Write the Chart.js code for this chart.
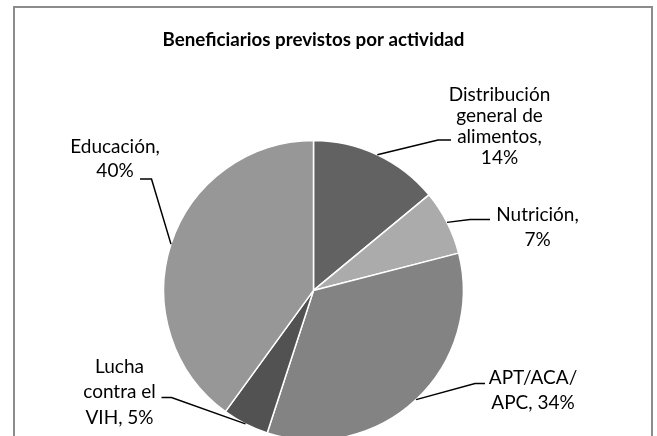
<!DOCTYPE html>
<html lang="es">
<head>
<meta charset="utf-8">
<title>Beneficiarios previstos por actividad</title>
<script src="https://cdn.jsdelivr.net/npm/chart.js@4/dist/chart.umd.min.js"></script>
<style>
  html, body { margin: 0; padding: 0; background: #ffffff; overflow: hidden; width: 657px; height: 436px; }
  canvas { display: block; }
</style>
</head>
<body>
<canvas id="pieChart" width="657" height="450"></canvas>
<script>
// Chart data
const categories = [
  "Distribución general de alimentos",
  "Nutrición",
  "APT/ACA/APC",
  "Lucha contra el VIH",
  "Educación"
];
const shares = [14, 7, 34, 5, 40]; // percent of beneficiaries
const sliceColors = ["#626262", "#ababab", "#838383", "#525252", "#979797"];

// Where each data label sits (text centre + first baseline) and how its leader line bends
const labelLayout = [
  { text: [499.5, 100.7], lineHeight: 21.2, wrap: 108, elbow: [438, 140], end: [451, 140] },
  { text: [537.5, 221], lineHeight: 24.7, wrap: 95, elbow: [470, 219.5], end: [490, 219.5] },
  { text: [533, 383.5], lineHeight: 25.6, wrap: 100, elbow: [475, 383.5], end: [485, 383.5] },
  { text: [119.5, 372.5], lineHeight: 25.5, wrap: 82, elbow: [171.5, 397.5], end: [161.5, 397.5] },
  { text: [115, 152.7], lineHeight: 24.5, wrap: 100, elbow: [151.5, 179], end: [140, 179] }
];

const FONT = "Lato, 'Noto Sans', sans-serif";

// Break a label into lines, allowing breaks after spaces and slashes
function wrapLabel(ctx, text, maxWidth) {
  const pieces = text.match(/[^\s\/]+\/?\s*|\s+/g) || [text];
  const lines = [];
  let current = "";
  pieces.forEach(piece => {
    const trial = current + piece;
    if (current && ctx.measureText(trial.trim()).width > maxWidth) {
      lines.push(current.trim());
      current = piece;
    } else {
      current = trial;
    }
  });
  if (current.trim()) lines.push(current.trim());
  return lines;
}

// Grey frame round the chart, like the spreadsheet chart area
const framePlugin = {
  id: "frame",
  beforeDraw(chart) {
    const ctx = chart.ctx;
    ctx.save();
    ctx.fillStyle = "#ffffff";
    ctx.fillRect(0, 0, chart.width, chart.height);
    ctx.strokeStyle = "#8c8c8c";
    ctx.lineWidth = 2;
    ctx.strokeRect(14, 7, 638, 470);
    ctx.restore();
  }
};

// Data labels with leader lines that start on each slice's outer edge
const leaderLabelPlugin = {
  id: "leaderLabels",
  afterDatasetsDraw(chart) {
    const ctx = chart.ctx;
    const arcs = chart.getDatasetMeta(0).data;
    ctx.save();
    ctx.font = "19px " + FONT;
    ctx.fillStyle = "#000000";
    ctx.textAlign = "center";
    ctx.textBaseline = "alphabetic";
    arcs.forEach((arc, i) => {
      const p = arc.getProps(["x", "y", "startAngle", "endAngle", "outerRadius"], true);
      const mid = (p.startAngle + p.endAngle) / 2;
      const sx = p.x + Math.cos(mid) * p.outerRadius;
      const sy = p.y + Math.sin(mid) * p.outerRadius;
      const lay = labelLayout[i];

      // leader line
      ctx.beginPath();
      ctx.strokeStyle = "#000000";
      ctx.lineWidth = 1.5;
      ctx.moveTo(sx, sy);
      ctx.lineTo(lay.elbow[0], lay.elbow[1]);
      ctx.lineTo(lay.end[0], lay.end[1]);
      ctx.stroke();

      // label text: "category, value%"
      const text = categories[i] + ", " + shares[i] + "%";
      const lines = wrapLabel(ctx, text, lay.wrap);
      lines.forEach((line, k) => {
        ctx.fillText(line, lay.text[0], lay.text[1] + k * lay.lineHeight);
      });
    });
    ctx.restore();
  }
};

new Chart(document.getElementById("pieChart"), {
  type: "pie",
  data: {
    labels: categories,
    datasets: [{
      data: shares,
      backgroundColor: sliceColors,
      borderColor: "#ffffff",
      borderWidth: 1.5
    }]
  },
  options: {
    responsive: false,
    animation: false,
    devicePixelRatio: 1,
    layout: {
      padding: { left: 162.5, right: 192.5, top: 0, bottom: 9 }
    },
    plugins: {
      legend: { display: false },
      tooltip: { enabled: false },
      title: {
        display: true,
        text: "Beneficiarios previstos por actividad",
        color: "#000000",
        font: { family: FONT, size: 19, weight: "bold", lineHeight: 1.2 },
        padding: { top: 28, bottom: 89 }
      }
    }
  },
  plugins: [framePlugin, leaderLabelPlugin]
});
</script>
</body>
</html>
